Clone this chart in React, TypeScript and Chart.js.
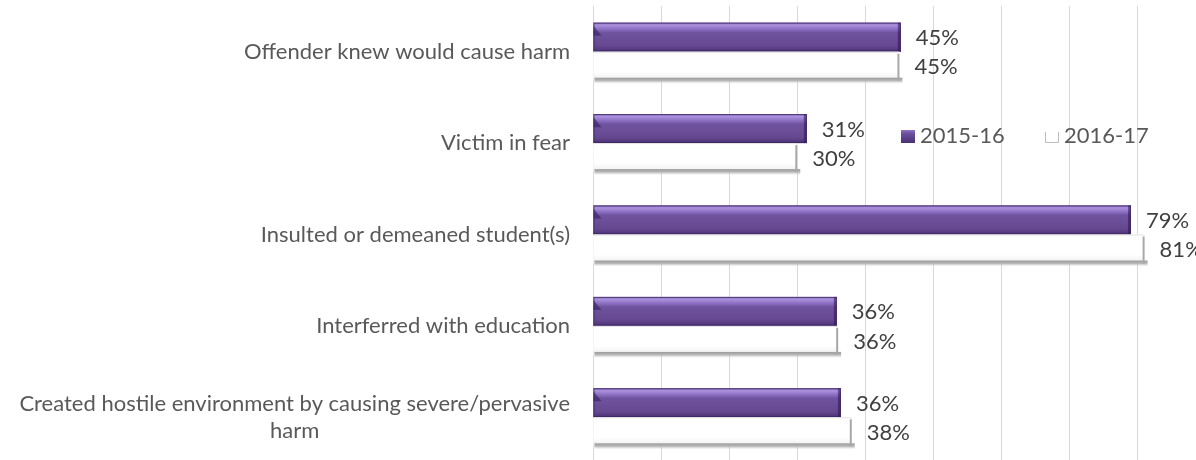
import React, { useEffect, useRef } from "react";
import { Chart, registerables } from "chart.js";

Chart.register(...registerables);

const categories: string[] = [
  "Offender knew would cause harm",
  "Victim in fear",
  "Insulted or demeaned student(s)",
  "Interferred with education",
  "Created hostile environment by causing severe/pervasive\nharm",
];
const series2015: number[] = [45.2, 31.4, 79, 35.8, 36.4];
const series2016: number[] = [45, 30, 81, 36, 38];
const seriesNames: string[] = ["2015-16", "2016-17"];
const xMin = 0;
const xMax = 100;
const xStep = 10;

const FONT_FAMILY = "Lato, 'Noto Sans', sans-serif";
const FONT_SIZE = 22;
const FONT = `${FONT_SIZE}px ${FONT_FAMILY}`;
const LABEL_COLOR = "#595959";
const VALUE_COLOR = "#404040";

const decorPlugin = {
  id: "decor",
  afterDatasetsDraw(chart: any) {
    const ctx: CanvasRenderingContext2D = chart.ctx;
    ctx.save();
    // purple bevel overlay
    chart.getDatasetMeta(0).data.forEach((bar: any) => {
      const { x, y, base, height } = bar.getProps(["x", "y", "base", "height"], true);
      const top = y - height / 2;
      const left = Math.min(base, x);
      const w = Math.abs(x - base);
      const g = ctx.createLinearGradient(0, top, 0, top + height);
      g.addColorStop(0, "#7d61b0");
      g.addColorStop(0.08, "#ab92dc");
      g.addColorStop(0.2, "#9275c8");
      g.addColorStop(0.34, "#70539f");
      g.addColorStop(0.8, "#65488f");
      g.addColorStop(0.92, "#573b80");
      g.addColorStop(1, "#3e2865");
      ctx.fillStyle = g;
      ctx.fillRect(left, top, w, height);
      // left chamfer
      ctx.fillStyle = "rgba(50,25,90,0.55)";
      ctx.beginPath();
      ctx.moveTo(left, top + 3);
      ctx.lineTo(left + 8, top + height * 0.45);
      ctx.lineTo(left, top + height * 0.45);
      ctx.closePath();
      ctx.fill();
      // right end edge
      ctx.fillStyle = "rgba(45,22,80,0.55)";
      ctx.fillRect(left + w - 3, top, 3, height);
      ctx.strokeStyle = "rgba(60,35,100,0.7)";
      ctx.lineWidth = 1;
      ctx.strokeRect(left + 0.5, top + 0.5, w - 1, height - 1);
    });
    // white bar shading
    chart.getDatasetMeta(1).data.forEach((bar: any) => {
      const { x, y, base, height } = bar.getProps(["x", "y", "base", "height"], true);
      const top = y - height / 2;
      const left = Math.min(base, x);
      const w = Math.abs(x - base);
      const bottom = top + height;
      const wg = ctx.createLinearGradient(0, top, 0, bottom);
      wg.addColorStop(0, "#ffffff");
      wg.addColorStop(0.7, "#ffffff");
      wg.addColorStop(1, "#ededed");
      ctx.fillStyle = wg;
      ctx.fillRect(left, top, w, height);
      const sg = ctx.createLinearGradient(0, bottom - 3, 0, bottom + 3);
      sg.addColorStop(0, "rgba(150,150,150,0.95)");
      sg.addColorStop(0.5, "rgba(170,170,170,0.8)");
      sg.addColorStop(1, "rgba(200,200,200,0)");
      ctx.fillStyle = sg;
      ctx.fillRect(left + 1, bottom - 3, w + 2, 6);
      ctx.fillStyle = "#a8a8a8";
      ctx.fillRect(left + w - 2, top + 2, 2, height - 2);
      ctx.fillStyle = "#e2e2e2";
      ctx.fillRect(left, top, w, 1);
    });
    ctx.restore();
  },
  afterDraw(chart: any) {
    const ctx: CanvasRenderingContext2D = chart.ctx;
    const area = chart.chartArea;
    const yScale = chart.scales.y;
    ctx.save();
    ctx.font = FONT;
    ctx.textBaseline = "middle";
    // category labels (right aligned block, centered lines)
    ctx.fillStyle = LABEL_COLOR;
    const rightEdge = area.left - 23;
    const lineH = 27;
    categories.forEach((lab, i) => {
      const lines = lab.split("\n");
      const widths = lines.map((l) => ctx.measureText(l).width);
      const blockW = Math.max(...widths);
      const cx = rightEdge - blockW / 2;
      const cy = yScale.getPixelForValue(i);
      ctx.textAlign = "center";
      lines.forEach((l, j) => {
        const ly = cy + (j - (lines.length - 1) / 2) * lineH;
        ctx.fillText(l, cx, ly);
      });
    });
    // value labels
    ctx.fillStyle = VALUE_COLOR;
    ctx.textAlign = "left";
    [0, 1].forEach((di) => {
      const ds = chart.data.datasets[di];
      chart.getDatasetMeta(di).data.forEach((bar: any, i: number) => {
        const { x, y } = bar.getProps(["x", "y"], true);
        ctx.fillText(Math.round(ds.data[i]) + "%", x + 15, y + 1);
      });
    });
    // legend
    const ly = area.top + 130;
    const lx1 = area.left + 308;
    const lx2 = area.left + 452;
    const box = 14;
    const pg = ctx.createLinearGradient(0, ly - box / 2, 0, ly + box / 2);
    pg.addColorStop(0, "#9b80cf");
    pg.addColorStop(0.3, "#6e519f");
    pg.addColorStop(1, "#4a3175");
    ctx.fillStyle = pg;
    ctx.fillRect(lx1, ly - box / 2 + 1, box, box - 1);
    ctx.fillStyle = "#ffffff";
    ctx.fillRect(lx2, ly - box / 2 + 1, box, box - 1);
    ctx.strokeStyle = "#bdbdbd";
    ctx.lineWidth = 1;
    ctx.beginPath();
    ctx.moveTo(lx2 + 0.5, ly - box / 2 + 3);
    ctx.lineTo(lx2 + 0.5, ly + box / 2 - 0.5);
    ctx.lineTo(lx2 + box - 0.5, ly + box / 2 - 0.5);
    ctx.lineTo(lx2 + box - 0.5, ly - box / 2 + 3);
    ctx.stroke();
    ctx.fillStyle = LABEL_COLOR;
    ctx.textAlign = "left";
    ctx.fillText(seriesNames[0], lx1 + box + 5, ly);
    ctx.fillText(seriesNames[1], lx2 + box + 5, ly);
    ctx.restore();
  },
};

export default function App() {
  const ref = useRef<HTMLCanvasElement | null>(null);
  useEffect(() => {
    if (!ref.current) return;
    const chart = new Chart(ref.current, {
      type: "bar",
      data: {
        labels: categories,
        datasets: [
          {
            label: seriesNames[0],
            data: series2015,
            backgroundColor: "#65488f",
            borderWidth: 0,
          },
          {
            label: seriesNames[1],
            data: series2016,
            backgroundColor: "#ffffff",
            borderWidth: 0,
          },
        ],
      },
      options: {
        indexAxis: "y",
        responsive: false,
        animation: false,
        devicePixelRatio: 1,
        categoryPercentage: 0.635,
        barPercentage: 1,
        layout: { padding: { left: 593, right: 26, top: 6, bottom: 7 } },
        plugins: {
          legend: { display: false },
          tooltip: { enabled: false },
        },
        scales: {
          x: {
            min: xMin,
            max: xMax,
            ticks: { display: false, stepSize: xStep },
            grid: { color: "#d9d9d9", lineWidth: 1, drawTicks: false },
            border: { display: false },
          },
          y: {
            ticks: { display: false },
            grid: { display: false, drawTicks: false },
            border: { display: false },
          },
        },
      } as any,
      plugins: [decorPlugin],
    });
    return () => chart.destroy();
  }, []);
  return (
    <div
      style={{
        position: "absolute",
        left: 0,
        top: 0,
        width: 1196,
        height: 460,
        overflow: "hidden",
        background: "#ffffff",
      }}
    >
      <canvas ref={ref} width={1300} height={470} style={{ display: "block" }} />
    </div>
  );
}
